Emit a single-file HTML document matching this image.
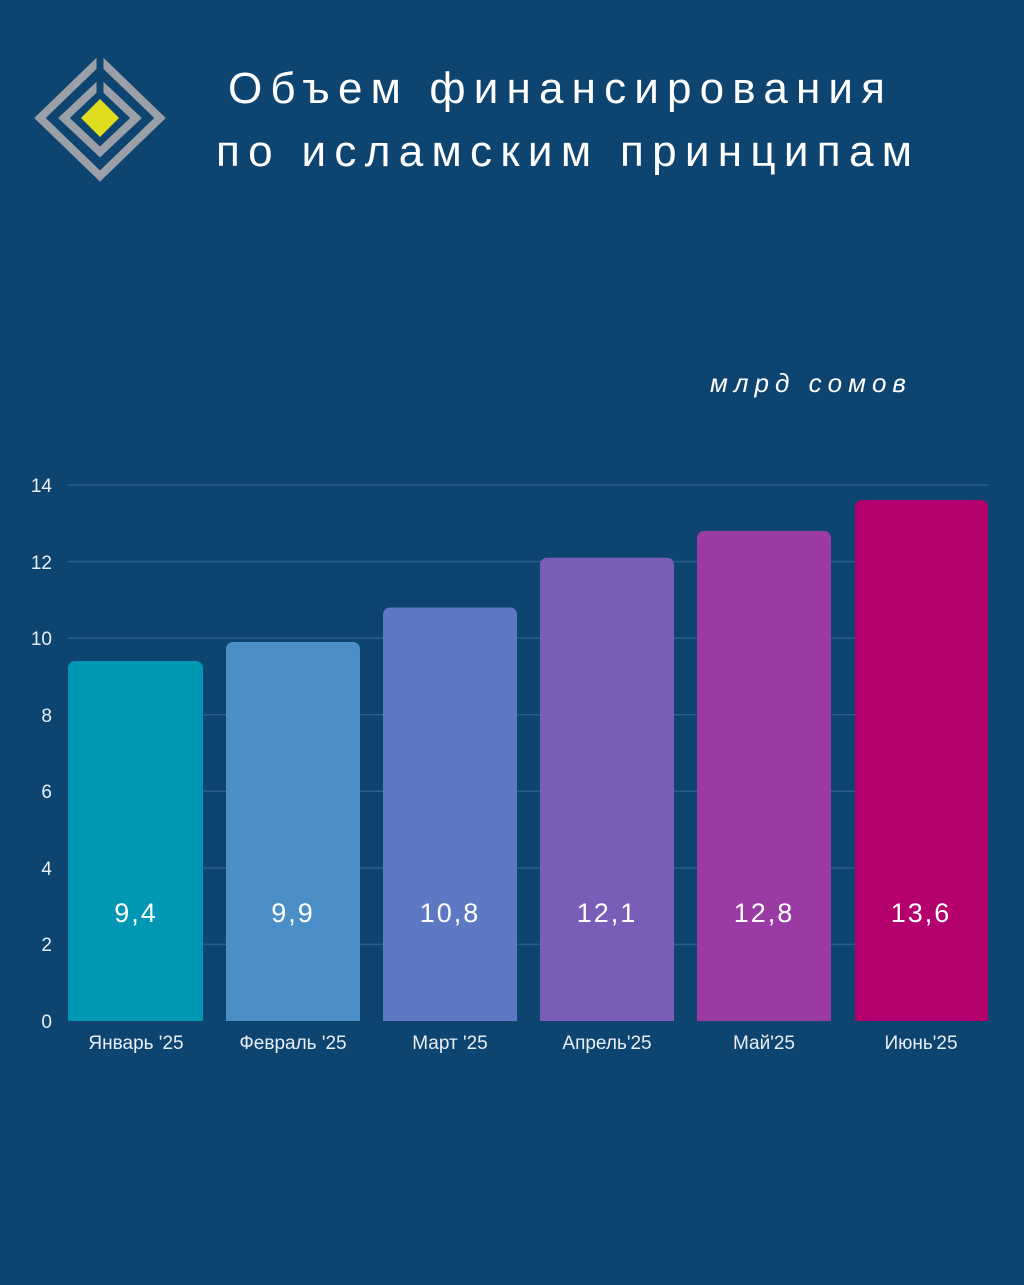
<!DOCTYPE html>
<html><head><meta charset="utf-8"><style>
body{margin:0;width:1024px;height:1280px;background:#0e4570;overflow:hidden;font-family:"Liberation Sans","DejaVu Sans",sans-serif;}
</style></head><body>
<svg width="1024" height="1280" xmlns="http://www.w3.org/2000/svg">
<rect width="1024" height="1280" fill="#0e4570"/>
<g fill="none" stroke="#9a9fa8" stroke-width="8">
<path d="M100 60 L160 118 L100 176 L40 118 Z"/>
<path d="M100 84 L136 118 L100 152 L64 118 Z"/>
</g>
<line x1="100" y1="50" x2="100" y2="98" stroke="#0e4570" stroke-width="7"/>
<path d="M100 99 L119 118 L100 137 L81 118 Z" fill="#e0dc1e"/>
<g fill="#ffffff" font-size="44" font-family="'Liberation Sans','DejaVu Sans',sans-serif">
<text x="228" y="103" textLength="657" lengthAdjust="spacing">Объем финансирования</text>
<text x="216" y="166" textLength="696" lengthAdjust="spacing">по исламским принципам</text>
</g>
<text x="710" y="392" fill="#ffffff" font-size="26" font-style="italic" textLength="196" lengthAdjust="spacing">млрд сомов</text>
<g stroke="#2a5f8a" stroke-width="1.5">
<line x1="68" y1="485" x2="988" y2="485"/>
<line x1="68" y1="561.6" x2="988" y2="561.6"/>
<line x1="68" y1="638.1" x2="988" y2="638.1"/>
<line x1="68" y1="714.7" x2="988" y2="714.7"/>
<line x1="68" y1="791.3" x2="988" y2="791.3"/>
<line x1="68" y1="867.9" x2="988" y2="867.9"/>
<line x1="68" y1="944.4" x2="988" y2="944.4"/>
</g>
<g fill="#e8eef5" font-size="19" text-anchor="end">
<text x="52" y="492">14</text><text x="52" y="569">12</text><text x="52" y="645">10</text>
<text x="52" y="722">8</text><text x="52" y="798">6</text><text x="52" y="875">4</text>
<text x="52" y="951">2</text><text x="52" y="1028">0</text>
</g>
<g>
<rect x="68" y="661" width="135" height="360" rx="7" fill="#0097b5"/><rect x="68" y="1010" width="135" height="11" fill="#0097b5"/>
<rect x="226" y="642" width="134" height="379" rx="7" fill="#4a8fc8"/><rect x="226" y="1010" width="134" height="11" fill="#4a8fc8"/>
<rect x="383" y="607.5" width="134" height="413.5" rx="7" fill="#5f78c4"/><rect x="383" y="1010" width="134" height="11" fill="#5f78c4"/>
<rect x="540" y="557.7" width="134" height="463.3" rx="7" fill="#7a5db8"/><rect x="540" y="1010" width="134" height="11" fill="#7a5db8"/>
<rect x="697" y="531" width="134" height="490" rx="7" fill="#9a3aa2"/><rect x="697" y="1010" width="134" height="11" fill="#9a3aa2"/>
<rect x="855" y="500" width="133" height="521" rx="7" fill="#b3006d"/><rect x="855" y="1010" width="133" height="11" fill="#b3006d"/>
</g>
<g fill="#ffffff" font-size="27" text-anchor="middle" letter-spacing="2">
<text x="136" y="922">9,4</text><text x="293" y="922">9,9</text><text x="450" y="922">10,8</text>
<text x="607" y="922">12,1</text><text x="764" y="922">12,8</text><text x="921" y="922">13,6</text>
</g>
<g fill="#e8eef5" font-size="19" text-anchor="middle">
<text x="136" y="1049">Январь '25</text><text x="293" y="1049">Февраль '25</text><text x="450" y="1049">Март '25</text>
<text x="607" y="1049">Апрель'25</text><text x="764" y="1049">Май'25</text><text x="921" y="1049">Июнь'25</text>
</g>
</svg>
</body></html>
